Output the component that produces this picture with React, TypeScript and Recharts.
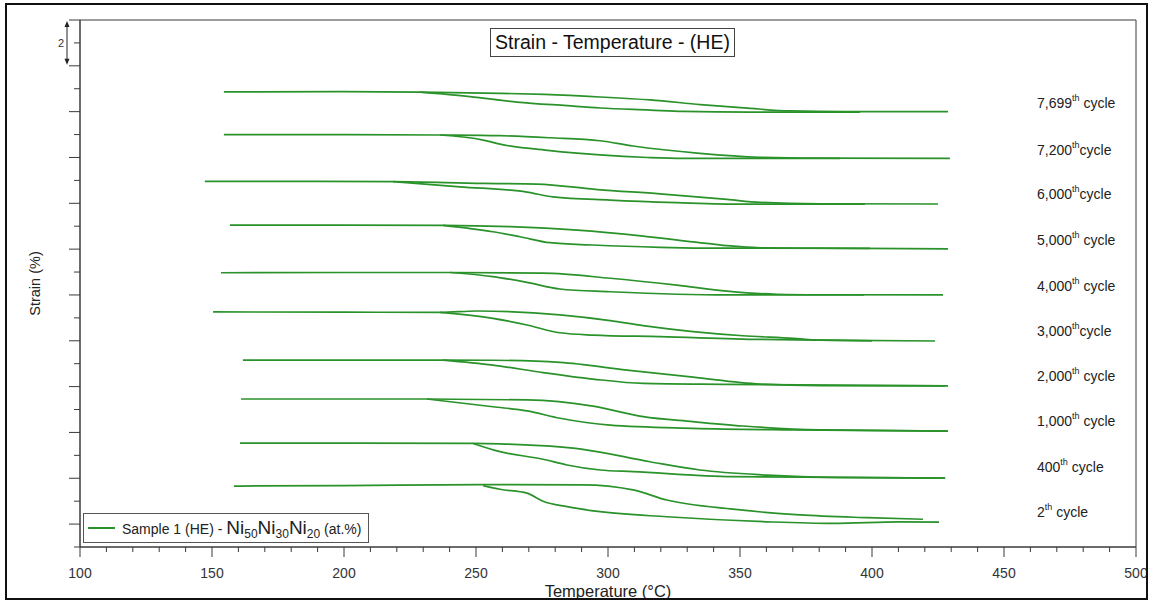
import React from "react";
import { ComposedChart, Line, XAxis, YAxis, Scatter, ReferenceArea, Label } from "recharts";

const FONT = '"Liberation Sans", Arial, Helvetica, sans-serif';
const GREEN = "#2a922a";
const AXIS = "#3a3a3a";

type Pt = [number, number];

// ---- axis ticks ----
const xTicks = [100, 110, 120, 130, 140, 150, 160, 170, 180, 190, 200, 210, 220, 230, 240, 250, 260, 270, 280, 290, 300, 310, 320, 330, 340, 350, 360, 370, 380, 390, 400, 410, 420, 430, 440, 450, 460, 470, 480, 490, 500];
const xMajor = [100, 150, 200, 250, 300, 350, 400, 450, 500];
const yTicks = [0, 1, 2, 3, 4, 5, 6, 7, 8, 9, 10, 11, 12, 13, 14, 15, 16, 17, 18, 19, 20, 21, 22, 23];

// ---- cycle labels (right side) ----
const cycleNames = ["7,699", "7,200", "6,000", "5,000", "4,000", "3,000", "2,000", "1,000", "400", "2"];
const cycleSpace = [true, false, false, true, true, false, true, true, true, true];
const cycleLabelStrain = [19.38, 17.33, 15.41, 13.4, 11.39, 9.43, 7.46, 5.5, 3.49, 1.53];
const cycleLabelTemp = 462.5;

// ---- hysteresis loops: [temperature °C, strain %] ----
const heat7699: Pt[] = [[154.5, 19.86], [200, 19.87], [228.8, 19.85], [259.1, 19.8], [276, 19.75], [297, 19.64], [316, 19.51], [335, 19.31], [354, 19.14], [369, 19.03], [390, 19.0], [428.8, 19.0]];
const cool7699: Pt[] = [[228.8, 19.85], [247.7, 19.66], [265.5, 19.42], [284.5, 19.26], [297, 19.16], [316, 19.07], [328.4, 19.01], [354, 18.98], [395.5, 18.98]];

const heat7200: Pt[] = [[154.5, 18.0], [200, 18.0], [236.4, 17.98], [259.1, 17.95], [278, 17.86], [297, 17.73], [309.5, 17.5], [334.8, 17.18], [357.6, 17.01], [380, 16.97], [429.5, 16.96]];
const cool7200: Pt[] = [[236.4, 17.98], [252.7, 17.76], [259.1, 17.58], [278, 17.3], [297, 17.11], [315, 17.0], [328.4, 16.96], [387.9, 16.96]];

const heat6000: Pt[] = [[147.3, 15.96], [190, 15.96], [218.6, 15.95], [252.7, 15.87], [273.1, 15.84], [296, 15.6], [319.7, 15.41], [345.1, 15.17], [357.6, 15.04], [380.3, 14.98], [425, 14.97]];
const cool6000: Pt[] = [[218.6, 15.95], [243.9, 15.72], [269.3, 15.49], [279.2, 15.28], [300.8, 15.14], [326.1, 15.03], [351.1, 14.96], [397.3, 14.96]];

const heat5000: Pt[] = [[156.8, 14.05], [200, 14.05], [237.5, 14.04], [262.9, 13.98], [288.3, 13.83], [313.3, 13.57], [332.2, 13.32], [345.1, 13.15], [357.6, 13.06], [380.3, 13.04], [428.8, 13.01]];
const cool5000: Pt[] = [[237.5, 14.04], [256.4, 13.76], [266.7, 13.54], [278, 13.28], [294.3, 13.18], [319.7, 13.08], [345.1, 13.04], [399.2, 13.03]];

const heat4000: Pt[] = [[153.4, 11.97], [200, 11.98], [240.2, 11.98], [275.4, 11.95], [300.8, 11.73], [326.1, 11.43], [345.1, 11.17], [364, 11.03], [380.3, 11.01], [426.9, 11.0]];
const cool4000: Pt[] = [[240.2, 11.98], [256.4, 11.8], [269.3, 11.55], [281.8, 11.26], [300.8, 11.14], [326.1, 11.03], [345.1, 11.0], [397, 11.0]];

const heat3000: Pt[] = [[150.4, 10.26], [200, 10.25], [236.4, 10.24], [250.4, 10.3], [281.8, 10.13], [300.8, 9.88], [313.3, 9.66], [332.2, 9.4], [351.1, 9.22], [370.1, 9.11], [380.3, 9.03], [423.9, 8.99]];
const cool3000: Pt[] = [[236.4, 10.24], [256.4, 9.98], [269.3, 9.69], [281.8, 9.35], [294.3, 9.25], [319.7, 9.18], [357.6, 9.06], [380.3, 9.03], [400, 9.0]];

const heat2000: Pt[] = [[161.7, 8.16], [200, 8.16], [237.5, 8.16], [256.4, 8.15], [281.8, 8.06], [307.2, 7.72], [332.2, 7.41], [357.6, 7.11], [380.3, 7.04], [427.7, 7.03]];
const cool2000: Pt[] = [[237.5, 8.16], [256.4, 7.94], [275.4, 7.61], [294.3, 7.33], [313.3, 7.14], [345.1, 7.1], [400, 7.05], [428.8, 7.03]];

const heat1000: Pt[] = [[161, 6.46], [200, 6.46], [231.4, 6.46], [269.3, 6.42], [294.3, 6.15], [313.3, 5.69], [332.2, 5.47], [351.1, 5.28], [380.3, 5.11], [428.8, 5.06]];
const cool1000: Pt[] = [[231.4, 6.46], [256.4, 6.12], [269.3, 5.94], [281.8, 5.62], [300.8, 5.32], [332.2, 5.18], [370.1, 5.11], [428.8, 5.06]];

const heat400: Pt[] = [[160.6, 4.53], [200, 4.53], [248.9, 4.52], [259.1, 4.5], [290.5, 4.26], [315.9, 3.72], [334.8, 3.36], [360.2, 3.14], [385.2, 3.04], [427.7, 3.01]];
const cool400: Pt[] = [[248.9, 4.52], [259.1, 4.16], [275.4, 3.83], [284.5, 3.58], [297, 3.36], [309.5, 3.29], [347.3, 3.07], [385.2, 3.04], [427.7, 3.01]];

const heat2: Pt[] = [[158.3, 2.66], [200, 2.68], [252.7, 2.72], [290.5, 2.71], [309.5, 2.49], [322.3, 2.05], [347.3, 1.65], [372.7, 1.4], [398.1, 1.28], [419.3, 1.21]];
const cool2: Pt[] = [[252.7, 2.68], [259.1, 2.52], [269.3, 2.35], [275.4, 2.0], [284.5, 1.76], [297, 1.54], [322.3, 1.32], [360.2, 1.1], [385.2, 1.03], [410.6, 1.1], [425.4, 1.09]];

const branches: Pt[][] = [
  heat7699, cool7699, heat7200, cool7200, heat6000, cool6000, heat5000, cool5000, heat4000, cool4000,
  heat3000, cool3000, heat2000, cool2000, heat1000, cool1000, heat400, cool400, heat2, cool2,
];

const toRows = (arr: Pt[]) => arr.map(([t, s]) => ({ t, s }));
const labelRows = cycleNames.map((name, i) => ({ t: cycleLabelTemp, s: cycleLabelStrain[i], name, space: cycleSpace[i] }));

const XTick = (p: any) => {
  const { x, y, payload } = p;
  const major = xMajor.includes(payload.value);
  return (
    <g>
      <line x1={x} x2={x} y1={y} y2={y + (major ? 10 : 5)} stroke={AXIS} strokeWidth={1} />
      {major && (
        <text x={x} y={y + 31} textAnchor="middle" fontSize={14} fill="#333" fontFamily={FONT}>
          {payload.value}
        </text>
      )}
    </g>
  );
};

const YTick = (p: any) => {
  const { x, y, payload } = p;
  const long = payload.value % 2 === 1;
  return <line x1={x - (long ? 11 : 6)} x2={x} y1={y} y2={y} stroke={AXIS} strokeWidth={1} />;
};

const YLabel = (p: any) => {
  const vb = p.viewBox || { x: 40, y: 20, width: 40, height: 527 };
  const unit = vb.height / 23;
  const ax = vb.x + vb.width - 13;
  const top = vb.y + 1;
  const bot = vb.y + 2 * unit - 1;
  const cy = vb.y + vb.height / 2;
  return (
    <g>
      <line x1={ax} x2={ax} y1={top + 4} y2={bot - 4} stroke="#222" strokeWidth={1} />
      <path d={`M${ax - 2.5},${top + 6} L${ax},${top} L${ax + 2.5},${top + 6} Z`} fill="#222" />
      <path d={`M${ax - 2.5},${bot - 6} L${ax},${bot} L${ax + 2.5},${bot - 6} Z`} fill="#222" />
      <text x={ax - 6} y={vb.y + unit + 4} textAnchor="middle" fontSize={11} fill="#333" fontFamily={FONT}>2</text>
      <text
        x={35}
        y={cy}
        transform={`rotate(-90, 35, ${cy})`}
        textAnchor="middle"
        dominantBaseline="central"
        fontSize={14.5}
        fill="#222"
        fontFamily={FONT}
      >
        Strain (%)
      </text>
    </g>
  );
};

const XLabel = (p: any) => {
  const vb = p.viewBox || { x: 80, y: 547, width: 1056, height: 30 };
  return (
    <text x={vb.x + vb.width / 2} y={vb.y + 50} textAnchor="middle" fontSize={16.5} fill="#222" fontFamily={FONT}>
      Temperature (°C)
    </text>
  );
};

const CycleLabel = (p: any) => {
  const { cx, cy, payload } = p;
  return (
    <text x={cx} y={cy + 5} fontSize={14} fill="#222" fontFamily={FONT}>
      <tspan>{payload.name}</tspan>
      <tspan fontSize={9} dy={-7}>th</tspan>
      <tspan fontSize={14} dy={7}>{payload.space ? " cycle" : "cycle"}</tspan>
    </text>
  );
};

export default function App() {
  return (
    <div style={{ position: "absolute", left: 0, top: 0, width: 1152, height: 604, background: "#fff", fontFamily: FONT }}>
      <ComposedChart
        width={1152}
        height={604}
        margin={{ top: 20, right: 16, bottom: 27, left: 40 }}
        style={{ position: "absolute", left: 0, top: 0 }}
      >
        <XAxis
          dataKey="t"
          type="number"
          domain={[100, 500]}
          ticks={xTicks}
          interval={0}
          tickSize={0}
          tickMargin={0}
          tickLine={false}
          axisLine={{ stroke: AXIS }}
          tick={<XTick />}
          height={30}
          allowDataOverflow
        >
          <Label content={<XLabel />} />
        </XAxis>
        <YAxis
          dataKey="s"
          type="number"
          domain={[0, 23]}
          ticks={yTicks}
          interval={0}
          tickSize={0}
          tickMargin={0}
          tickLine={false}
          axisLine={{ stroke: AXIS }}
          tick={<YTick />}
          width={40}
          allowDataOverflow
        >
          <Label content={<YLabel />} />
        </YAxis>
        <ReferenceArea x1={100} x2={500} y1={0} y2={23} fill="none" stroke={AXIS} strokeWidth={1} ifOverflow="visible" />
        {branches.map((b, i) => (
          <Line
            key={i}
            data={toRows(b)}
            dataKey="s"
            type="monotone"
            stroke={GREEN}
            strokeWidth={1.7}
            dot={false}
            activeDot={false}
            isAnimationActive={false}
            legendType="none"
          />
        ))}
        <Scatter data={labelRows} dataKey="s" shape={<CycleLabel />} isAnimationActive={false} legendType="none" />
      </ComposedChart>

      {/* title box */}
      <div
        style={{
          position: "absolute",
          left: 490,
          top: 28,
          width: 245,
          height: 29,
          boxSizing: "border-box",
          border: "1px solid #444",
          background: "#fff",
          fontSize: 19.5,
          lineHeight: "27px",
          textAlign: "center",
          color: "#111",
          whiteSpace: "nowrap",
        }}
      >
        Strain - Temperature - (HE)
      </div>

      {/* legend box */}
      <div
        style={{
          position: "absolute",
          left: 83,
          top: 513,
          width: 286,
          height: 30,
          boxSizing: "border-box",
          border: "1px solid #555",
          background: "#fff",
          color: "#222",
          whiteSpace: "nowrap",
        }}
      >
        <div style={{ position: "absolute", left: 4, top: 13, width: 27, height: 2, background: GREEN }} />
        <div style={{ position: "absolute", left: 38, top: 2, fontSize: 14, lineHeight: "24px" }}>
          <span>Sample 1 (HE) - </span>
          <span style={{ fontSize: 19 }}>Ni</span>
          <sub style={{ fontSize: 12, verticalAlign: "-4px" }}>50</sub>
          <span style={{ fontSize: 19 }}>Ni</span>
          <sub style={{ fontSize: 12, verticalAlign: "-4px" }}>30</sub>
          <span style={{ fontSize: 19 }}>Ni</span>
          <sub style={{ fontSize: 12, verticalAlign: "-4px" }}>20</sub>
          <span> (at.%)</span>
        </div>
      </div>

      {/* outer frame */}
      <div
        style={{
          position: "absolute",
          left: 5,
          top: 3,
          width: 1143,
          height: 597,
          boxSizing: "border-box",
          border: "2px solid #111",
          pointerEvents: "none",
        }}
      />
    </div>
  );
}
